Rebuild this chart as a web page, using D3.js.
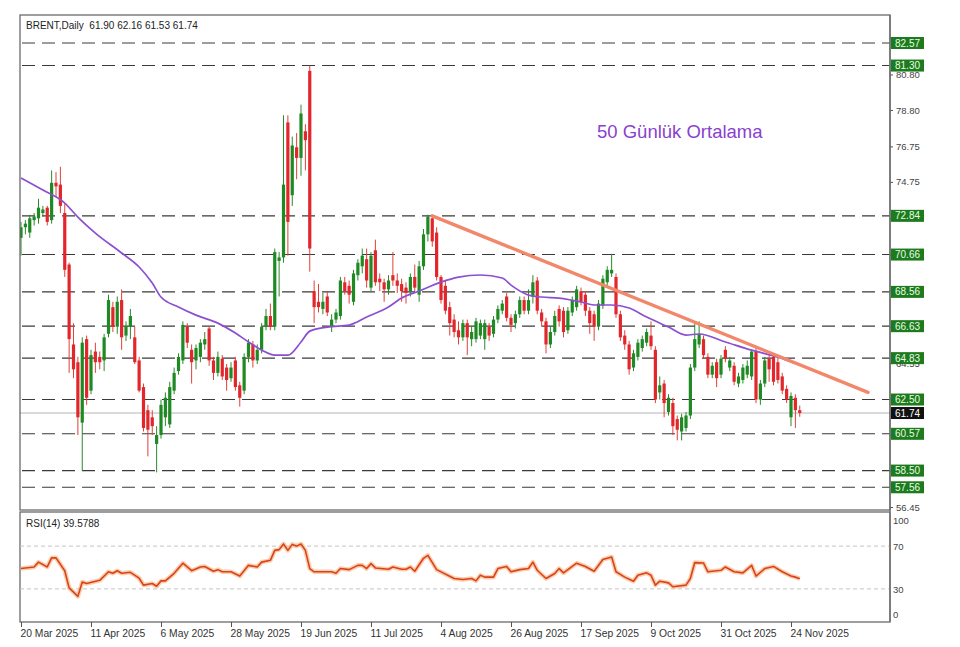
<!DOCTYPE html>
<html><head><meta charset="utf-8">
<script src="https://cdn.jsdelivr.net/npm/d3@7/dist/d3.min.js"></script>
<style>body{margin:0;background:#fff}svg{display:block}</style>
</head><body><svg id="c" width="960" height="647"></svg>
<script>
// ---------- DATA ----------
const xLabels = ["20 Mar 2025","11 Apr 2025","6 May 2025","28 May 2025","19 Jun 2025","11 Jul 2025","4 Aug 2025","26 Aug 2025","17 Sep 2025","9 Oct 2025","31 Oct 2025","24 Nov 2025"];
const xLabelIdx = [0,16,32,48,64,80,96,112,128,144,160,176];

const open = [71.6,72.2,71.9,72.6,72.7,73.0,73.3,72.6,74.7,74.6,73.0,70.1,65.6,64.6,61.2,65.9,63.0,65.2,64.9,64.7,
66.2,67.7,66.6,68.1,66.1,66.6,66.0,64.7,63.2,61.9,61.5,60.0,60.5,61.5,61.1,63.0,64.1,64.7,66.6,65.3,
64.7,64.9,65.6,66.5,64.7,64.0,64.8,64.3,63.7,64.7,63.3,63.0,64.9,65.6,64.7,65.3,66.6,67.2,66.6,70.3,
70.5,78.1,74.0,76.7,76.1,77.6,81.0,68.6,68.0,67.6,68.3,66.6,67.0,67.2,69.1,68.9,68.0,69.5,70.0,70.4,
68.8,70.9,69.3,69.1,68.7,69.5,69.2,69.0,68.8,68.6,69.4,68.4,70.0,71.8,72.7,71.9,69.4,68.9,67.7,67.0,
66.4,66.0,66.8,65.9,65.9,66.1,65.9,66.6,66.2,67.0,67.5,68.3,67.1,66.8,67.3,68.1,67.5,68.3,69.2,67.4,
66.9,65.6,66.3,67.6,67.5,66.4,67.4,67.7,68.6,68.4,67.5,67.3,66.6,67.8,69.1,69.6,69.4,67.3,66.1,65.6,
64.3,64.9,65.4,65.7,66.1,65.3,62.9,63.4,61.8,62.3,61.4,60.7,60.9,61.6,64.3,65.6,65.9,64.9,63.9,64.6,
63.9,65.3,64.3,64.4,63.4,63.6,63.9,63.8,65.2,62.5,63.4,64.8,64.9,64.6,63.8,63.1,61.5,62.6,61.90];
const high = [72.5,72.6,72.9,73.0,73.8,73.4,73.4,75.4,75.3,75.6,73.5,70.2,66.8,64.9,66.0,66.1,65.3,65.7,65.2,66.2,
68.4,68.0,68.3,68.7,66.9,67.6,66.6,64.9,63.4,62.2,61.9,61.0,62.5,62.9,63.5,64.3,65.1,66.9,66.8,65.6,
65.6,65.9,66.3,66.6,64.9,65.2,65.0,64.5,64.6,64.9,63.5,65.1,65.9,65.8,65.6,66.8,67.6,67.9,71.0,70.8,
78.5,78.5,77.3,77.5,79.1,78.0,81.3,69.2,69.0,68.5,68.6,67.3,67.6,69.4,69.4,69.2,69.8,70.4,71.0,71.0,
70.8,71.5,69.6,69.3,69.5,70.8,69.6,69.3,69.1,69.6,70.1,70.3,72.1,72.9,72.84,72.2,69.5,69.2,68.0,67.3,
66.9,67.0,67.0,66.6,67.1,67.0,67.0,66.8,67.2,67.8,68.1,68.5,67.3,67.5,68.3,68.3,68.7,69.5,69.4,67.6,
67.1,66.6,67.5,67.8,67.7,67.7,68.3,68.9,68.8,68.6,67.7,67.5,68.1,69.5,70.0,70.7,69.6,67.5,66.4,65.8,
65.3,65.9,66.1,66.5,66.9,65.5,63.8,63.6,62.8,62.6,61.6,61.7,61.8,64.5,66.8,66.9,66.1,65.1,64.6,64.8,
65.0,65.5,64.9,64.6,64.0,64.5,64.7,65.3,65.4,63.6,64.9,65.0,65.1,64.9,64.0,63.3,62.9,62.8,62.16];
const low = [70.6,71.8,71.6,72.3,72.4,72.8,72.3,72.4,73.9,73.0,69.4,64.0,63.7,60.5,58.5,62.2,62.8,64.0,64.2,64.1,
66.0,66.3,66.2,65.3,65.8,65.9,64.5,62.9,60.7,59.3,60.5,58.4,60.3,61.0,60.9,62.8,63.9,64.5,65.4,63.4,
64.2,64.6,65.3,64.4,63.6,63.8,63.6,63.0,63.5,63.0,62.1,62.8,64.6,64.3,64.5,65.1,66.4,66.4,66.4,68.3,
70.2,70.6,73.4,74.9,75.1,75.4,69.7,66.8,67.4,67.3,67.2,66.3,66.8,67.0,68.4,67.9,67.8,69.2,69.6,68.8,
68.6,68.9,68.6,68.0,68.4,68.9,68.5,68.0,67.9,68.3,68.6,68.0,69.8,71.4,71.1,69.2,67.9,67.3,66.1,66.0,
65.6,65.8,65.0,65.5,65.7,65.9,65.3,65.8,66.0,66.8,67.3,66.9,66.3,66.5,67.1,67.3,67.3,67.9,67.3,66.6,
65.1,65.4,66.1,66.6,66.0,66.2,67.2,67.5,67.8,67.2,66.2,65.8,66.4,67.6,68.9,69.4,67.1,65.8,65.3,63.9,
64.1,64.7,65.2,65.5,65.3,62.3,62.5,61.5,61.6,60.5,60.2,60.2,60.7,61.4,64.1,65.4,64.8,63.7,63.7,63.2,
63.7,64.6,64.1,63.3,63.2,63.4,63.7,63.6,62.3,62.2,63.2,63.5,63.3,63.4,62.8,62.3,61.0,60.9,61.53];
const close = [72.2,72.4,72.7,72.8,73.3,73.2,72.5,74.7,74.5,73.4,69.8,65.9,64.2,61.5,65.7,62.6,65.0,64.6,64.6,66.0,
68.1,66.6,68.0,66.0,66.6,67.2,64.6,63.0,60.9,60.8,61.0,60.5,62.2,62.6,63.2,64.0,64.9,66.7,65.7,64.6,
65.4,65.7,65.9,64.7,64.0,64.9,63.8,63.6,64.3,63.2,62.6,64.9,65.7,64.7,65.3,66.6,67.2,66.6,70.8,70.5,
74.6,72.5,76.8,76.1,78.6,77.1,71.0,67.7,67.7,68.0,67.4,67.0,67.4,69.2,68.6,68.4,69.6,70.2,70.6,69.2,
70.6,69.1,69.1,68.7,69.2,69.2,68.9,68.6,68.5,69.4,68.8,70.0,71.8,72.8,71.4,69.4,68.1,67.5,66.8,66.3,
66.0,66.8,66.0,66.3,66.9,66.8,66.8,66.1,67.0,67.6,67.9,67.1,66.7,67.3,68.1,67.5,68.1,69.1,67.5,66.9,
65.6,66.3,67.2,66.9,66.3,67.5,68.1,68.7,68.0,67.5,66.8,66.6,67.9,69.3,69.8,69.8,67.3,66.0,65.6,64.2,
65.1,65.7,65.9,66.3,65.5,62.5,63.3,62.3,62.6,61.0,60.8,61.5,61.6,64.3,65.9,66.2,65.0,63.9,64.4,63.7,
64.8,64.8,64.7,63.5,63.8,64.3,64.4,65.2,62.5,63.4,64.7,64.2,63.5,63.6,63.0,62.5,62.7,61.9,61.74];

const maIdx = [0,5,10,13,17,23,27,30,32,36,40,45,49,52,55,58,61,64,66,70,75,79,84,87,91,96,100,105,110,112,116,119,123,128,131,135,139,143,148,152,155,161,167,173,178];
const maVal = [74.97,74.29,73.56,72.77,71.87,70.75,69.96,69.06,68.27,67.71,67.25,66.80,66.24,65.74,65.28,65.00,65.00,65.74,66.35,66.58,66.69,67.14,67.71,68.21,68.61,69.11,69.39,69.51,69.34,68.94,68.38,68.27,68.21,67.99,67.82,67.82,67.65,67.14,66.58,66.13,66.19,65.74,65.28,64.89,64.44];

const rsiIdx = [0,3,4,6,7,8,10,11,13,14,15,18,20,21,22,23,25,27,28,30,31,32,33,35,37,39,41,42,44,45,46,48,50,52,54,55,57,58,59,60,61,62,63,64,65,66,67,71,72,73,75,77,78,79,80,81,84,85,87,88,89,90,92,93,95,99,101,103,104,105,106,108,109,111,112,114,116,117,118,120,122,123,124,127,129,131,133,135,136,138,140,141,143,144,145,146,148,149,152,153,154,156,157,160,161,163,165,167,168,170,172,174,176,177,178];
const rsiVal = [49,50.5,55,50.5,59,59,47,31,23,36.5,35,38,46,44.6,47,44.6,45.5,40,33.5,35,32.5,37.5,37.5,44.6,54,47,50.5,51,46.5,48,46,46,42,52,50.5,55,56.7,66,66.7,72,66,71.6,70,72,66,49,46,46,44.6,49,48,52,52,49,53.6,49.6,48.4,50.5,48.4,48.4,50.5,46.5,58.6,61.4,48,39.7,38.8,39.7,37.5,42.8,41,41,49,51,46,48,49,55,47.4,39.7,44.4,49,45,54,51,46.5,57.4,59.8,46,41,37.2,42.8,45,42.8,33.5,37.2,35.6,32,33.5,39.7,54.6,54.2,46,47.4,50.5,46,45,52,42,49,51,46,42,41,39.58];

const levels = [82.57,81.30,72.84,70.66,68.56,66.63,64.83,62.50,60.57,58.50,57.56];
const priceTicks = [82.85,80.80,78.80,76.75,74.75,72.70,70.65,68.65,66.60,64.55,62.55,60.50,58.50,56.45];
const priceTickLabels = ["","80.80","78.80","76.75","74.75","","","","","64.55","","","","56.45"];
const lastPrice = 61.74;
const trendIdx = [94,193.6];
const trendVal = [72.84,62.90];
const rsiTicks = [100,70,30,0];
const rsiLevels = [70,30];
const header = "BRENT,Daily  61.90 62.16 61.53 61.74";
const rsiTitle = "RSI(14) 39.5788";
const maTitle = "50 Günlük Ortalama";

// ---------- LAYOUT ----------
const svg = d3.select("#c");
const L = 20, R = 890, mainTop = 15, mainBot = 510, rsiTop = 512, rsiBot = 622;
const font = "'Liberation Sans', Arial, sans-serif";
const x = d3.scaleLinear().domain([0,178]).range([21, 21 + 178*4.375]);
const y = d3.scaleLinear().domain([56.45,82.57]).range([507,43]);
const yr = d3.scaleLinear().domain([0,100]).range([621,514]);

svg.append("rect").attr("width",960).attr("height",647).attr("fill","#fff");
const defs = svg.append("defs");
defs.append("clipPath").attr("id","mclip").append("rect").attr("x",L).attr("y",mainTop).attr("width",R-L).attr("height",mainBot-mainTop);
defs.append("clipPath").attr("id","rclip").append("rect").attr("x",L).attr("y",rsiTop).attr("width",R-L).attr("height",rsiBot-rsiTop);

const main = svg.append("g").attr("clip-path","url(#mclip)");

// level lines
main.selectAll("line.lvl").data(levels).join("line").attr("class","lvl")
  .attr("x1",L+2).attr("x2",R).attr("y1",d=>y(d)).attr("y2",d=>y(d))
  .attr("stroke","#3a3a3a").attr("stroke-width",1.1).attr("stroke-dasharray","13,7");
// last price line
main.append("line").attr("x1",L).attr("x2",R).attr("y1",y(lastPrice)).attr("y2",y(lastPrice))
  .attr("stroke","#b5b5b5").attr("stroke-width",1);

// candles
const idx = d3.range(open.length);
const up = i => close[i] >= open[i];
const cg = main.append("g");
cg.selectAll("line.w").data(idx).join("line").attr("class","w")
  .attr("x1",i=>x(i)).attr("x2",i=>x(i)).attr("y1",i=>y(high[i])).attr("y2",i=>y(low[i]))
  .attr("stroke",i=>up(i)?"#2a8a2a":"#e0403a").attr("stroke-width",1);
cg.selectAll("rect.b").data(idx).join("rect").attr("class","b")
  .attr("x",i=>x(i)-1.6).attr("width",3.2)
  .attr("y",i=>y(Math.max(open[i],close[i])))
  .attr("height",i=>Math.max(1,Math.abs(y(open[i])-y(close[i]))))
  .attr("fill",i=>up(i)?"#1f8a24":"#e3262b");

// MA
main.append("path").datum(d3.range(maIdx.length))
  .attr("d",d3.line().x(k=>x(maIdx[k])).y(k=>y(maVal[k])).curve(d3.curveMonotoneX))
  .attr("fill","none").attr("stroke","#8c4fd0").attr("stroke-width",1.7);

// trend line
main.append("path").datum([0,1])
  .attr("d",d3.line().x(k=>x(trendIdx[k])).y(k=>y(trendVal[k])))
  .attr("stroke","#f3876a").attr("stroke-width",3.4).attr("stroke-linecap","round").attr("fill","none");

// frames
svg.append("rect").attr("x",L).attr("y",mainTop).attr("width",R-L).attr("height",mainBot-mainTop)
  .attr("fill","none").attr("stroke","#6a6a6a").attr("stroke-width",1.3);
svg.append("rect").attr("x",L).attr("y",rsiTop).attr("width",R-L).attr("height",rsiBot-rsiTop)
  .attr("fill","none").attr("stroke","#6a6a6a").attr("stroke-width",1.3);

// right price axis
const ay = svg.append("g").attr("transform",`translate(${R},0)`)
  .call(d3.axisRight(y).tickValues(priceTicks).tickFormat((d,i)=>priceTickLabels[i]).tickSize(3).tickPadding(3));
ay.select(".domain").remove();
ay.selectAll("text").attr("font-family",font).attr("font-size",9.5).attr("fill","#444");
ay.selectAll("line").attr("stroke","#555");

// level boxes
const lb = svg.append("g").selectAll("g").data(levels).join("g").attr("transform",d=>`translate(${R+1},${y(d)})`);
lb.append("rect").attr("x",0).attr("y",-6).attr("width",33).attr("height",12).attr("fill","#1d7a1d");
lb.append("text").attr("x",4).attr("dy","0.35em").text(d=>d.toFixed(2))
  .attr("font-family",font).attr("font-size",10).attr("fill","#e6ffe6");
const lp = svg.append("g").attr("transform",`translate(${R+1},${y(lastPrice)})`);
lp.append("rect").attr("x",0).attr("y",-6).attr("width",33).attr("height",12).attr("fill","#111");
lp.append("text").attr("x",4).attr("dy","0.35em").text(lastPrice.toFixed(2))
  .attr("font-family",font).attr("font-size",10).attr("fill","#fff");

// RSI panel
const rg = svg.append("g").attr("clip-path","url(#rclip)");
rg.selectAll("line.rl").data(rsiLevels).join("line").attr("class","rl")
  .attr("x1",L).attr("x2",R).attr("y1",d=>yr(d)).attr("y2",d=>yr(d))
  .attr("stroke","#c4c4c4").attr("stroke-width",1).attr("stroke-dasharray","4,3");
const rline = d3.line().x(k=>x(rsiIdx[k])).y(k=>yr(rsiVal[k]));
const rk = d3.range(rsiIdx.length);
rg.append("path").datum(rk).attr("d",rline).attr("fill","none")
  .attr("stroke","#f9b98a").attr("stroke-width",4.5).attr("stroke-opacity",0.7).attr("stroke-linejoin","round");
rg.append("path").datum(rk).attr("d",rline).attr("fill","none")
  .attr("stroke","#d8431c").attr("stroke-width",1.6).attr("stroke-linejoin","round");

svg.append("line").attr("x1",R).attr("x2",R).attr("y1",mainTop).attr("y2",rsiBot).attr("stroke","#6a6a6a").attr("stroke-width",1.3);
const rax = svg.append("g").attr("transform",`translate(${R},0)`);
rax.selectAll("text").data(rsiTicks).join("text")
  .attr("x",3).attr("y",d=> d===100 ? yr(d)+7 : d===0 ? yr(d)-6 : yr(d)+1).attr("dy","0.35em")
  .text(d=>d).attr("font-family",font).attr("font-size",9.5).attr("fill","#444");

// x axis
const ax = svg.append("g").attr("transform",`translate(0,${rsiBot})`)
  .call(d3.axisBottom(x).tickValues(xLabelIdx).tickFormat((d,i)=>xLabels[i]).tickSize(5).tickPadding(3));
ax.select(".domain").remove();
ax.selectAll("line").attr("stroke","#555");
ax.selectAll("text").attr("text-anchor","start").attr("x",0).attr("dx","-1")
  .attr("font-family",font).attr("font-size",10.3).attr("fill","#333");

// titles
svg.append("text").attr("x",26).attr("y",29).text(header).attr("xml:space","preserve")
  .style("white-space","pre").attr("font-family",font).attr("font-size",10).attr("fill","#222");
svg.append("text").attr("x",26).attr("y",527).text(rsiTitle)
  .attr("font-family",font).attr("font-size",10).attr("fill","#222");
svg.append("text").attr("x",597).attr("y",138).text(maTitle)
  .attr("font-family",font).attr("font-size",18.5).attr("fill","#8a3fcf");
</script>
</body></html>
